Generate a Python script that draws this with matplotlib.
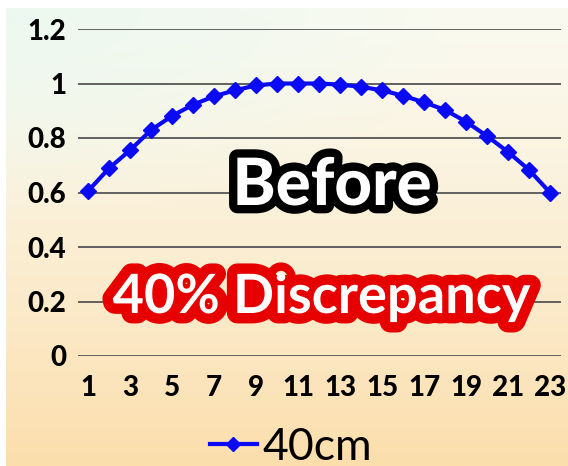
import matplotlib
matplotlib.use("Agg")
import matplotlib.pyplot as plt
import matplotlib.patheffects as pe
import numpy as np

# data
punkter = list(range(1, 24))
varden_40cm = [0.605, 0.689, 0.755, 0.829, 0.881, 0.922, 0.953, 0.975, 0.993, 1.0, 1.0,
               1.0, 0.996, 0.988, 0.975, 0.955, 0.931, 0.903, 0.86, 0.807, 0.749, 0.683, 0.600]
x_etiketter = list(range(1, 24, 2))
y_etiketter = [0, 0.2, 0.4, 0.6, 0.8, 1, 1.2]
serie_namn = "40cm"

plt.rcParams['font.family'] = ['Lato', 'DejaVu Sans']

fig = plt.figure(figsize=(5.68, 4.66), dpi=100)
fig.patch.set_facecolor("white")

# bakgrund med gradient
bg = fig.add_axes([6 / 568, 0, 1 - 6 / 568, 1 - 8 / 466], zorder=-10)
h, w = 200, 200
yy = np.linspace(0, 1, h)[:, None]
xx = np.linspace(0, 1, w)[None, :]
topp = np.array([250, 250, 240]) / 255
botten = np.array([252, 222, 172]) / 255
t = yy ** 1.3
bild = topp * (1 - t[..., None]) + botten * t[..., None]
bild = np.broadcast_to(bild, (h, w, 3)).copy()
mint = np.array([236, 248, 240]) / 255
vikt = np.clip(1 - np.sqrt((xx * 1.2) ** 2 + (yy * 2.2) ** 2), 0, 1)[..., None]
bild = bild * (1 - vikt) + mint * vikt
bg.imshow(bild, aspect="auto", extent=[0, 1, 0, 1], origin="upper")
bg.axis("off")

ax = fig.add_axes([77.5 / 568, (466 - 356) / 466, 483 / 568, 327 / 466])
ax.set_facecolor("none")
ax.plot(punkter, varden_40cm, color="#0a0af5", lw=3, marker="D", ms=8,
        label=serie_namn, zorder=3)

ax.set_xlim(0.5, 23.5)
ax.set_ylim(0, 1.2)
ax.set_yticks(y_etiketter)
ax.set_yticklabels([f"{v:g}" for v in y_etiketter])
ax.set_xticks(x_etiketter)
ax.grid(axis="y", color="#555555", lw=1.3)
ax.set_axisbelow(True)
for s in ax.spines.values():
    s.set_visible(False)
ax.tick_params(axis="both", length=0, labelsize=20)
ax.tick_params(axis="y", pad=8)
ax.tick_params(axis="x", pad=14)
for lab in ax.get_xticklabels() + ax.get_yticklabels():
    lab.set_fontweight("black")

leg = fig.legend(loc="center left", bbox_to_anchor=(210 / 568, 1 - 447 / 466),
                 frameon=False, fontsize=32, borderpad=0, borderaxespad=0,
                 handlelength=1.05, handletextpad=0.12, markerscale=0.85)

fig.text(332 / 568, 1 - 205 / 466, "Before", ha="center", va="baseline",
         fontsize=47, fontweight="black", color="white",
         path_effects=[pe.withStroke(linewidth=12, foreground="black")])
fig.text(321 / 568, 1 - 313 / 466, "40% Discrepancy", ha="center", va="baseline",
         fontsize=39, fontweight="bold", color="white",
         path_effects=[pe.withStroke(linewidth=15, foreground="#e60000")])

fig.savefig("out.png", dpi=100)
